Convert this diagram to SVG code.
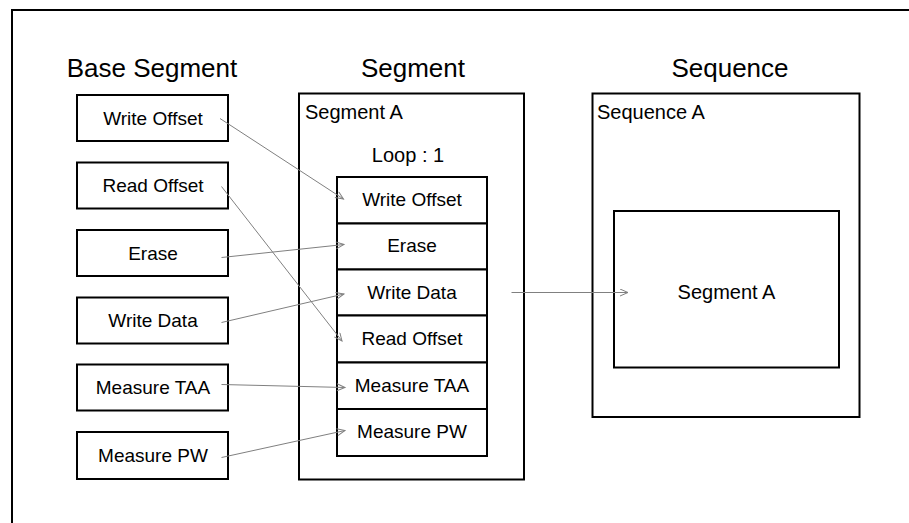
<svg xmlns="http://www.w3.org/2000/svg" width="909" height="523" viewBox="0 0 909 523">
<defs>
<style>
.box{fill:#fff;stroke:#000;stroke-width:2}
.t{font-family:"Liberation Sans",Arial,sans-serif;fill:#000}
.lbl{font-size:19px;text-anchor:middle}
.hd{font-size:26px;text-anchor:middle}
.sm{font-size:20px}
.con{stroke:#808080;stroke-width:1;fill:none;marker-end:url(#arr)}
</style>
<marker id="arr" markerUnits="userSpaceOnUse" markerWidth="12" markerHeight="10" refX="9" refY="4" orient="auto">
<path d="M1,0.5 L9,4 L1,7.5" fill="none" stroke="#808080" stroke-width="1"/>
</marker>
</defs>
<rect width="909" height="523" fill="#fff"/>
<path d="M12,523 V10 H909" fill="none" stroke="#000" stroke-width="2"/>
<g id="titles">
<text class="t hd" x="152" y="77">Base Segment</text>
<text class="t hd" x="413" y="77">Segment</text>
<text class="t hd" x="730" y="77">Sequence</text>
</g>
<g id="base-write-offset"><rect class="box" x="77" y="95" width="151" height="46"/><text class="t lbl" x="153" y="124.5">Write Offset</text></g>
<g id="base-read-offset"><rect class="box" x="77" y="162.5" width="151" height="46"/><text class="t lbl" x="153" y="192">Read Offset</text></g>
<g id="base-erase"><rect class="box" x="77" y="230" width="151" height="46"/><text class="t lbl" x="153" y="259.5">Erase</text></g>
<g id="base-write-data"><rect class="box" x="77" y="297.5" width="151" height="46"/><text class="t lbl" x="153" y="327">Write Data</text></g>
<g id="base-measure-taa"><rect class="box" x="77" y="364.5" width="151" height="46"/><text class="t lbl" x="153" y="394">Measure TAA</text></g>
<g id="base-measure-pw"><rect class="box" x="77" y="432" width="151" height="47"/><text class="t lbl" x="153" y="462">Measure PW</text></g>
<g id="segment-a">
<rect class="box" x="299" y="93.5" width="225" height="386"/>
<text class="t sm" x="305" y="119">Segment A</text>
<text class="t sm" x="408" y="162" text-anchor="middle">Loop : 1</text>
</g>
<g id="seg-write-offset"><rect class="box" x="337" y="177" width="150" height="46.5"/><text class="t lbl" x="412" y="206">Write Offset</text></g>
<g id="seg-erase"><rect class="box" x="337" y="223.5" width="150" height="46"/><text class="t lbl" x="412" y="252">Erase</text></g>
<g id="seg-write-data"><rect class="box" x="337" y="269.5" width="150" height="46"/><text class="t lbl" x="412" y="298.5">Write Data</text></g>
<g id="seg-read-offset"><rect class="box" x="337" y="315.5" width="150" height="47"/><text class="t lbl" x="412" y="345">Read Offset</text></g>
<g id="seg-measure-taa"><rect class="box" x="337" y="362.5" width="150" height="46.5"/><text class="t lbl" x="412" y="391.5">Measure TAA</text></g>
<g id="seg-measure-pw"><rect class="box" x="337" y="409" width="150" height="47"/><text class="t lbl" x="412" y="438">Measure PW</text></g>
<g id="sequence-a">
<rect class="box" x="592.5" y="93.5" width="267" height="323.5"/>
<text class="t sm" x="597" y="119">Sequence A</text>
</g>
<g id="seq-segment-a"><rect class="box" x="614" y="211" width="225" height="156.5"/><text class="t sm" x="726.5" y="299" text-anchor="middle">Segment A</text></g>
<g id="connectors">
<line class="con" x1="220" y1="118.5" x2="343.5" y2="199"/>
<line class="con" x1="221.5" y1="186.5" x2="342" y2="341"/>
<line class="con" x1="221.5" y1="257.5" x2="344" y2="244.5"/>
<line class="con" x1="221.5" y1="322.5" x2="344" y2="294"/>
<line class="con" x1="221.5" y1="384.5" x2="345" y2="387.5"/>
<line class="con" x1="221.5" y1="457.5" x2="345" y2="430.5"/>
<line class="con" x1="511.5" y1="292.5" x2="628" y2="292.5"/>
</g>
</svg>
